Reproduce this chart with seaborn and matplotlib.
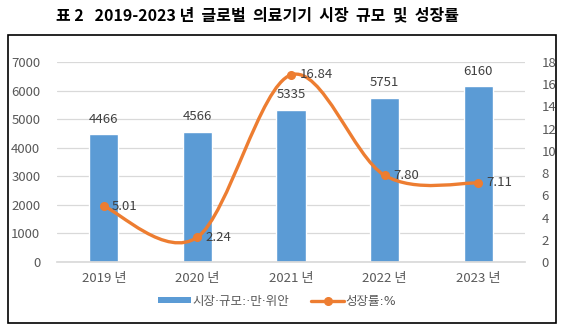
import matplotlib
matplotlib.use("Agg")
import matplotlib.pyplot as plt
import numpy as np
import pandas as pd
import seaborn as sns
from matplotlib.path import Path
from matplotlib.patches import PathPatch, Patch, Rectangle
from matplotlib.lines import Line2D

# Chart data
years = ["2019 년", "2020 년", "2021 년", "2022 년", "2023 년"]
market_size = [4466, 4566, 5335, 5751, 6160]
growth_rate = [5.01, 2.24, 16.84, 7.80, 7.11]

title = "표 2   2019-2023 년  글로벌  의료기기  시장  규모  및  성장률"
bar_label_text = "시장·규모:·만·위안"
line_label_text = "성장률:%"

BLUE = "#5B9BD5"
ORANGE = "#ED7D31"
GRAY = "#595959"
GRID = "#D9D9D9"

sns.set_theme(style="white")
plt.rcParams["font.family"] = ["Noto Sans CJK KR", "DejaVu Sans"]

fig = plt.figure(figsize=(5.66, 3.28), dpi=100)
W, H = 566, 328
ax = fig.add_axes([57 / W, (H - 262) / H, 468 / W, 200 / H])

df = pd.DataFrame({"year": years, "size": market_size})
sns.barplot(data=df, x="year", y="size", color=BLUE, width=0.31,
            saturation=1, ax=ax, zorder=2)
ax.set_ylim(0, 7000)
ax.set_yticks(range(0, 7001, 1000))
ax.set_xlim(-0.5, len(years) - 0.5)
ax.set_xlabel("")
ax.set_ylabel("")
ax.grid(axis="y", color=GRID, linewidth=0.9, zorder=0)
ax.set_axisbelow(True)
for s in ax.spines.values():
    s.set_visible(False)
ax.spines["bottom"].set_visible(True)
ax.spines["bottom"].set_color(GRID)
ax.tick_params(axis="both", length=0, colors=GRAY, labelsize=9.5)
ax.tick_params(axis="y", pad=12)
ax.tick_params(axis="x", pad=7)
ax.bar_label(ax.containers[0], labels=[str(v) for v in market_size],
             padding=6, color="#404040", fontsize=9.5)

# Growth rate on secondary axis, drawn as a smoothed curve
ax2 = ax.twinx()
ax2.set_ylim(0, 18)
ax2.set_yticks(range(0, 19, 2))
for s in ax2.spines.values():
    s.set_visible(False)
ax2.tick_params(axis="y", length=0, colors=GRAY, labelsize=9.5, pad=12)
ax2.grid(False)

xs = np.arange(len(years), dtype=float)
ys = np.array(growth_rate, dtype=float)
pts = np.column_stack([xs, ys])
verts = [tuple(pts[0])]
codes = [Path.MOVETO]
n = len(pts)
for i in range(n - 1):
    p0 = pts[i - 1] if i > 0 else pts[i]
    p1 = pts[i]
    p2 = pts[i + 1]
    p3 = pts[i + 2] if i + 2 < n else pts[i + 1]
    c1 = p1 + (p2 - p0) / 6.0
    c2 = p2 - (p3 - p1) / 6.0
    verts += [tuple(c1), tuple(c2), tuple(p2)]
    codes += [Path.CURVE4] * 3
curve = PathPatch(Path(verts, codes), facecolor="none", edgecolor=ORANGE,
                  linewidth=2.4, capstyle="round", zorder=3)
ax2.add_patch(curve)
ax2.plot(xs, ys, linestyle="none", marker="o", markersize=5.5,
         color=ORANGE, zorder=4)
for x, y in zip(xs, ys):
    ax2.annotate(f"{y:.2f}", (x, y), xytext=(6, 0), textcoords="offset points",
                 ha="left", va="center", color="#404040", fontsize=9.5)

# Legend
handles = [
    Patch(facecolor=BLUE, edgecolor="none"),
    Line2D([0], [0], color=ORANGE, linewidth=2.4, marker="o", markersize=5.5),
]
fig.legend(handles, [bar_label_text, line_label_text], ncol=2,
           loc="center", bbox_to_anchor=(277 / W, (H - 301) / H),
           frameon=False, labelcolor=GRAY,
           prop={"family": ["DejaVu Sans", "Noto Sans CJK KR"], "size": 9},
           handlelength=2.6, handleheight=0.45, handletextpad=0.1,
           columnspacing=1.8)

# Outer frame
fig.add_artist(Rectangle((8 / W, (H - 323) / H), 548 / W, 288 / H,
                         transform=fig.transFigure, fill=False,
                         edgecolor="black", linewidth=1.2))

fig.text(257 / W, (H - 15) / H, title, ha="center", va="center",
         fontsize=11.5, fontweight="bold", color="black")

fig.savefig("out.png", dpi=100)
